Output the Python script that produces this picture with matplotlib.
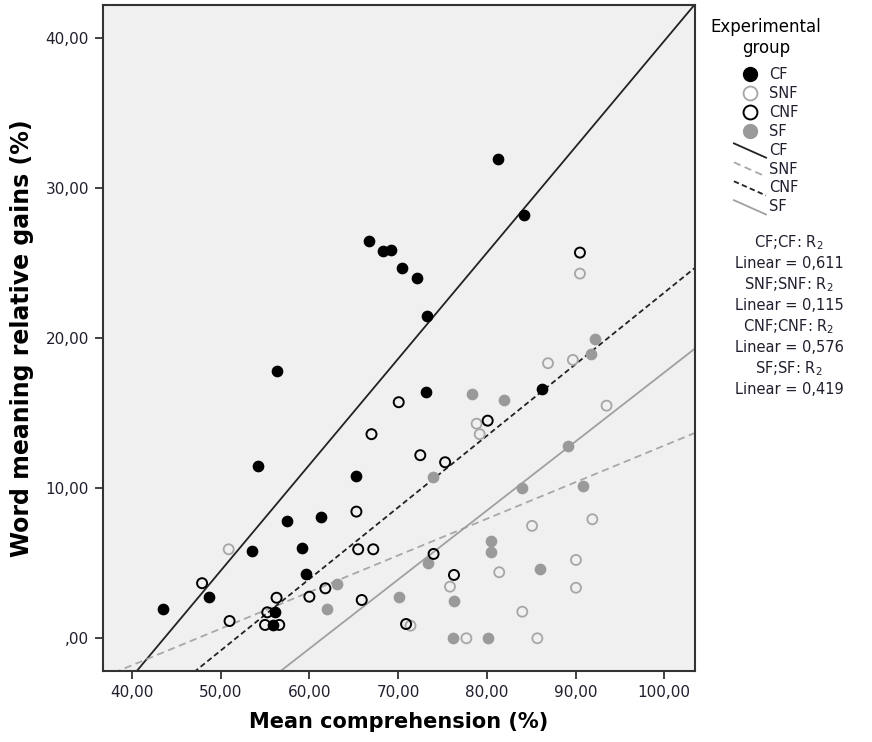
import matplotlib
matplotlib.use("Agg")
import matplotlib.pyplot as plt
from matplotlib.lines import Line2D
from matplotlib.legend_handler import HandlerLine2D
import numpy as np

# values
cf_x = [43.5, 48.7, 53.5, 54.2, 55.9, 56.1, 56.4, 57.5, 59.2, 59.6, 61.3, 65.3,
        66.7, 68.3, 69.2, 70.45, 72.1, 73.1, 73.3, 81.3, 84.2, 86.2]
cf_y = [1.95, 2.73, 5.84, 11.5, 0.89, 1.77, 17.84, 7.8, 6.0, 4.29, 8.05, 10.8,
        26.5, 25.8, 25.9, 24.7, 24.0, 16.4, 21.5, 31.95, 28.2, 16.6]

snf_x = [50.9, 71.4, 75.85, 77.7, 78.85, 79.2, 81.4, 84.0, 85.1, 85.7, 86.9,
         89.7, 90.05, 90.05, 90.5, 91.9, 93.5]
snf_y = [5.93, 0.84, 3.44, 0.0, 14.3, 13.6, 4.4, 1.77, 7.49, 0.0, 18.33,
         18.55, 5.22, 3.37, 24.3, 7.93, 15.5]

cnf_x = [47.9, 51.0, 55.0, 55.25, 56.3, 56.6, 60.0, 61.8, 65.3, 65.5, 65.9,
         67.0, 67.2, 70.07, 70.9, 72.5, 74.0, 75.3, 76.3, 80.1, 90.5]
cnf_y = [3.67, 1.15, 0.89, 1.73, 2.7, 0.89, 2.77, 3.33, 8.44, 5.93, 2.55,
         13.6, 5.93, 15.73, 0.95, 12.2, 5.62, 11.73, 4.22, 14.5, 25.7]

sf_x = [62.0, 63.1, 70.07, 73.4, 73.9, 76.15, 76.3, 78.3, 80.1, 80.5, 80.5,
        81.9, 84.0, 86.0, 89.2, 90.9, 91.7, 92.25]
sf_y = [1.95, 3.6, 2.77, 5.0, 10.77, 0.02, 2.51, 16.3, 0.0, 6.49, 5.73,
        15.9, 10.04, 4.62, 12.8, 10.17, 18.93, 19.93]

# fit lines (slope, intercept)
fit_slope = {"CF": 0.706, "SNF": 0.244, "CNF": 0.477, "SF": 0.46}
fit_icept = {"CF": -30.80, "SNF": -11.56, "CNF": -24.67, "SF": -28.29}
r2_values = {"CF": "0,611", "SNF": "0,115", "CNF": "0,576", "SF": "0,419"}

groups = ["CF", "SNF", "CNF", "SF"]
x_ticks = [40, 50, 60, 70, 80, 90, 100]
y_ticks = [0, 10, 20, 30, 40]


def spss_fmt(v):
    s = "%.2f" % v
    s = s.replace(".", ",")
    if s.startswith("0,"):
        s = s[1:]
    return s


class DiagHandler(HandlerLine2D):
    def create_artists(self, legend, orig_handle, xdescent, ydescent,
                       width, height, fontsize, trans):
        line = Line2D([-xdescent, width - xdescent],
                      [height * 1.1 - ydescent, -height * 0.3 - ydescent])
        self.update_prop(line, orig_handle, legend)
        line.set_transform(trans)
        return [line]


fig = plt.figure(figsize=(8.72, 7.42), dpi=100)
ax = fig.add_axes([0.1181, 0.0961, 0.6789, 0.8972])
ax.set_facecolor("#f0f0f0")

xlim = (36.73, 103.47)
ylim = (-2.16, 42.2)
ax.set_xlim(xlim)
ax.set_ylim(ylim)

line_style = {
    "CF": dict(color="#222222", ls="-", lw=1.3),
    "SNF": dict(color="#a8a8a8", ls=(0, (4, 2.5)), lw=1.3),
    "CNF": dict(color="#222222", ls=(0, (3, 1.8)), lw=1.3),
    "SF": dict(color="#a0a0a0", ls="-", lw=1.3),
}
xs = np.array(xlim)
for g in groups:
    ax.plot(xs, fit_slope[g] * xs + fit_icept[g], zorder=2, **line_style[g])

ms = 52
ax.scatter(cf_x, cf_y, s=ms, facecolor="black", edgecolor="black", lw=1.2, zorder=3)
ax.scatter(snf_x, snf_y, s=ms, facecolor="none", edgecolor="#a6a6a6", lw=1.3, zorder=3)
ax.scatter(sf_x, sf_y, s=ms, facecolor="#9a9a9a", edgecolor="#9a9a9a", lw=1.2, zorder=3)
ax.scatter(cnf_x, cnf_y, s=ms, facecolor="none", edgecolor="black", lw=1.4, zorder=4)

ax.set_xticks(x_ticks)
ax.set_xticklabels([spss_fmt(v) for v in x_ticks])
ax.set_yticks(y_ticks)
ax.set_yticklabels([spss_fmt(v) for v in y_ticks])
ax.tick_params(direction="out", length=6, width=1.3, color="#333333",
               labelsize=11, labelcolor="#1f1f2e", pad=4)
for sp in ax.spines.values():
    sp.set_color("#333333")
    sp.set_linewidth(1.5)

ax.set_xlabel("Mean comprehension (%)", fontsize=15, fontweight="bold",
              family="DejaVu Sans", labelpad=9)
ax.set_ylabel("Word meaning relative gains (%)", fontsize=17, fontweight="bold",
              family="DejaVu Sans", labelpad=8)

# legend
handles = [
    Line2D([], [], ls="none", marker="o", ms=10, mfc="black", mec="black"),
    Line2D([], [], ls="none", marker="o", ms=10, mfc="none", mec="#a6a6a6", mew=1.3),
    Line2D([], [], ls="none", marker="o", ms=10, mfc="none", mec="black", mew=1.4),
    Line2D([], [], ls="none", marker="o", ms=10, mfc="#9a9a9a", mec="#9a9a9a"),
]
for g in groups:
    handles.append(Line2D([], [], **line_style[g]))
labels = groups + groups
hmap = {h: DiagHandler() for h in handles[4:]}
leg = fig.legend(handles, labels, loc="upper left", bbox_to_anchor=(0.8, 0.993),
                 frameon=False, fontsize=10.5, title="Experimental\ngroup",
                 title_fontsize=12, handlelength=2.2, handletextpad=0.2,
                 labelspacing=0.27, handler_map=hmap)
leg._legend_box.align = "center"
leg._legend_box.sep = 7
leg.get_title().set_multialignment("center")
for t in leg.get_texts():
    t.set_color("#1f1f2e")

# R2 annotations
row = 0
for g in groups:
    fig.text(0.905, 1 - (243 + row * 21) / 742, "%s;%s: R$_2$" % (g, g),
             ha="center", va="center", fontsize=10.5, color="#1f1f2e")
    row += 1
    fig.text(0.905, 1 - (243 + row * 21) / 742, "Linear = %s" % r2_values[g],
             ha="center", va="center", fontsize=10.5, color="#1f1f2e")
    row += 1

fig.savefig("out.png", dpi=100)
